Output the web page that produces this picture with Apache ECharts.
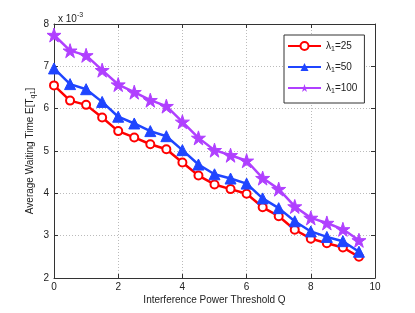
<!DOCTYPE html>
<html><head><meta charset="utf-8">
<script src="https://cdn.jsdelivr.net/npm/echarts@6/dist/echarts.min.js"></script>
<style>html,body{margin:0;padding:0;background:#fff}#c{width:415px;height:313px}</style>
</head><body><div id="c"></div>
<script>
const xValues = [0,0.5,1,1.5,2,2.5,3,3.5,4,4.5,5,5.5,6,6.5,7,7.5,8,8.5,9,9.5];
const lambda25 = [6.55,6.19,6.09,5.79,5.47,5.32,5.16,5.04,4.73,4.42,4.21,4.10,3.99,3.67,3.46,3.14,2.93,2.82,2.72,2.50];
const lambda50 = [6.95,6.58,6.46,6.16,5.81,5.65,5.47,5.35,5.02,4.68,4.45,4.35,4.23,3.88,3.65,3.34,3.10,2.97,2.87,2.62];
const lambda100 = [7.74,7.37,7.26,6.91,6.57,6.39,6.20,6.06,5.69,5.31,5.02,4.90,4.77,4.36,4.10,3.69,3.42,3.30,3.15,2.89];
const seriesNames = ['25','50','100'];
const xTicks = [0,2,4,6,8,10];
const yTicks = [2,3,4,5,6,7,8];

const FONT = 'Liberation Sans, Arial, sans-serif';
const star = 'path://M100 0 L122.5 69.1 L195.1 69.1 L136.3 111.8 L158.8 180.9 L100 138.2 L41.2 180.9 L63.7 111.8 L4.9 69.1 L77.5 69.1 Z';
const pair = a => a.map((v,i)=>[xValues[i], v]);
const chart = echarts.init(document.getElementById('c'), null, {renderer:'canvas'});
const axisCommon = {
  axisLine:{show:true,onZero:false,lineStyle:{color:'#333',width:1}},
  axisTick:{show:true,inside:true,length:4,lineStyle:{color:'#333'}},
  axisLabel:{color:'#222',fontSize:10,fontFamily:FONT},
  splitLine:{show:false}
};
chart.setOption({
  animation:false,
  backgroundColor:'#fff',
  grid:{left:54,right:40,top:24,bottom:35,show:false},
  title:{
    text:'{a|x 10}{s|-3}',left:53,top:5,
    textStyle:{fontWeight:'normal',rich:{a:{fontSize:10,fontWeight:'normal',fontFamily:FONT,color:'#222',padding:[4,0,0,0]},s:{fontSize:7,fontWeight:'normal',fontFamily:FONT,color:'#222',padding:[0,0,4,0]}}}
  },
  legend:{
    orient:'vertical',left:284,top:35,
    padding:[6,7,8,3],itemGap:9,itemWidth:33,itemHeight:10,
    backgroundColor:'#fff',borderColor:'#333',borderWidth:1,borderRadius:0,
    formatter:n=>'{a|λ}{s|1}{a|='+n.split('=')[1]+'}',
    textStyle:{rich:{a:{fontSize:10,fontFamily:FONT,color:'#222'},s:{fontSize:7,fontFamily:FONT,color:'#222',padding:[7,0,0,0]}}},
    data:seriesNames.map(s=>'λ1='+s)
  },
  xAxis:[
    Object.assign({type:'value',min:0,max:10,interval:2,position:'bottom',
      name:'Interference Power Threshold Q',nameLocation:'middle',nameGap:17,nameMoveOverlap:false,
      nameTextStyle:{fontSize:10,fontFamily:FONT,color:'#222'}},axisCommon,
      {axisLabel:{color:'#222',fontSize:10,fontFamily:FONT,margin:4,formatter:v=>xTicks.includes(v)?String(v):''},
       splitLine:{show:true,lineStyle:{color:'#bbb',type:[1,2],width:1}}}),
    Object.assign({type:'value',min:0,max:10,interval:2,position:'top'},axisCommon,{axisLabel:{show:false}})
  ],
  yAxis:[
    Object.assign({type:'value',min:2,max:8,interval:1,position:'left',
      name:'{a|Average Waiting Time E[T}{s|q1}{a|]}',nameLocation:'middle',nameGap:17,nameMoveOverlap:false,
      nameTextStyle:{rich:{a:{fontSize:10,fontFamily:FONT,color:'#222'},s:{fontSize:7,fontFamily:FONT,color:'#222',padding:[7,0,0,0]}}}},axisCommon,
      {axisLabel:{color:'#222',fontSize:10,fontFamily:FONT,margin:5,formatter:v=>yTicks.includes(v)?String(v):''},
       splitLine:{show:true,lineStyle:{color:'#bbb',type:[1,2],width:1}}}),
    Object.assign({type:'value',min:2,max:8,interval:1,position:'right'},axisCommon,{axisLabel:{show:false}})
  ],
  series:[
    {name:'λ1=25',type:'line',data:pair(lambda25),symbol:'circle',symbolSize:8,
     lineStyle:{color:'#ff0000',width:2.5},itemStyle:{color:'#fff',borderColor:'#ff0000',borderWidth:2},color:'#ff0000'},
    {name:'λ1=50',type:'line',data:pair(lambda50),symbol:'triangle',symbolSize:11,
     lineStyle:{color:'#1f45ff',width:2.5},itemStyle:{color:'#1f45ff',borderColor:'#1f45ff'},color:'#1f45ff'},
    {name:'λ1=100',type:'line',data:pair(lambda100),symbol:star,symbolSize:14,
     lineStyle:{color:'#b040ff',width:2.5},itemStyle:{color:'#b040ff',borderColor:'#b040ff'},color:'#b040ff'}
  ]
});
</script></body></html>
